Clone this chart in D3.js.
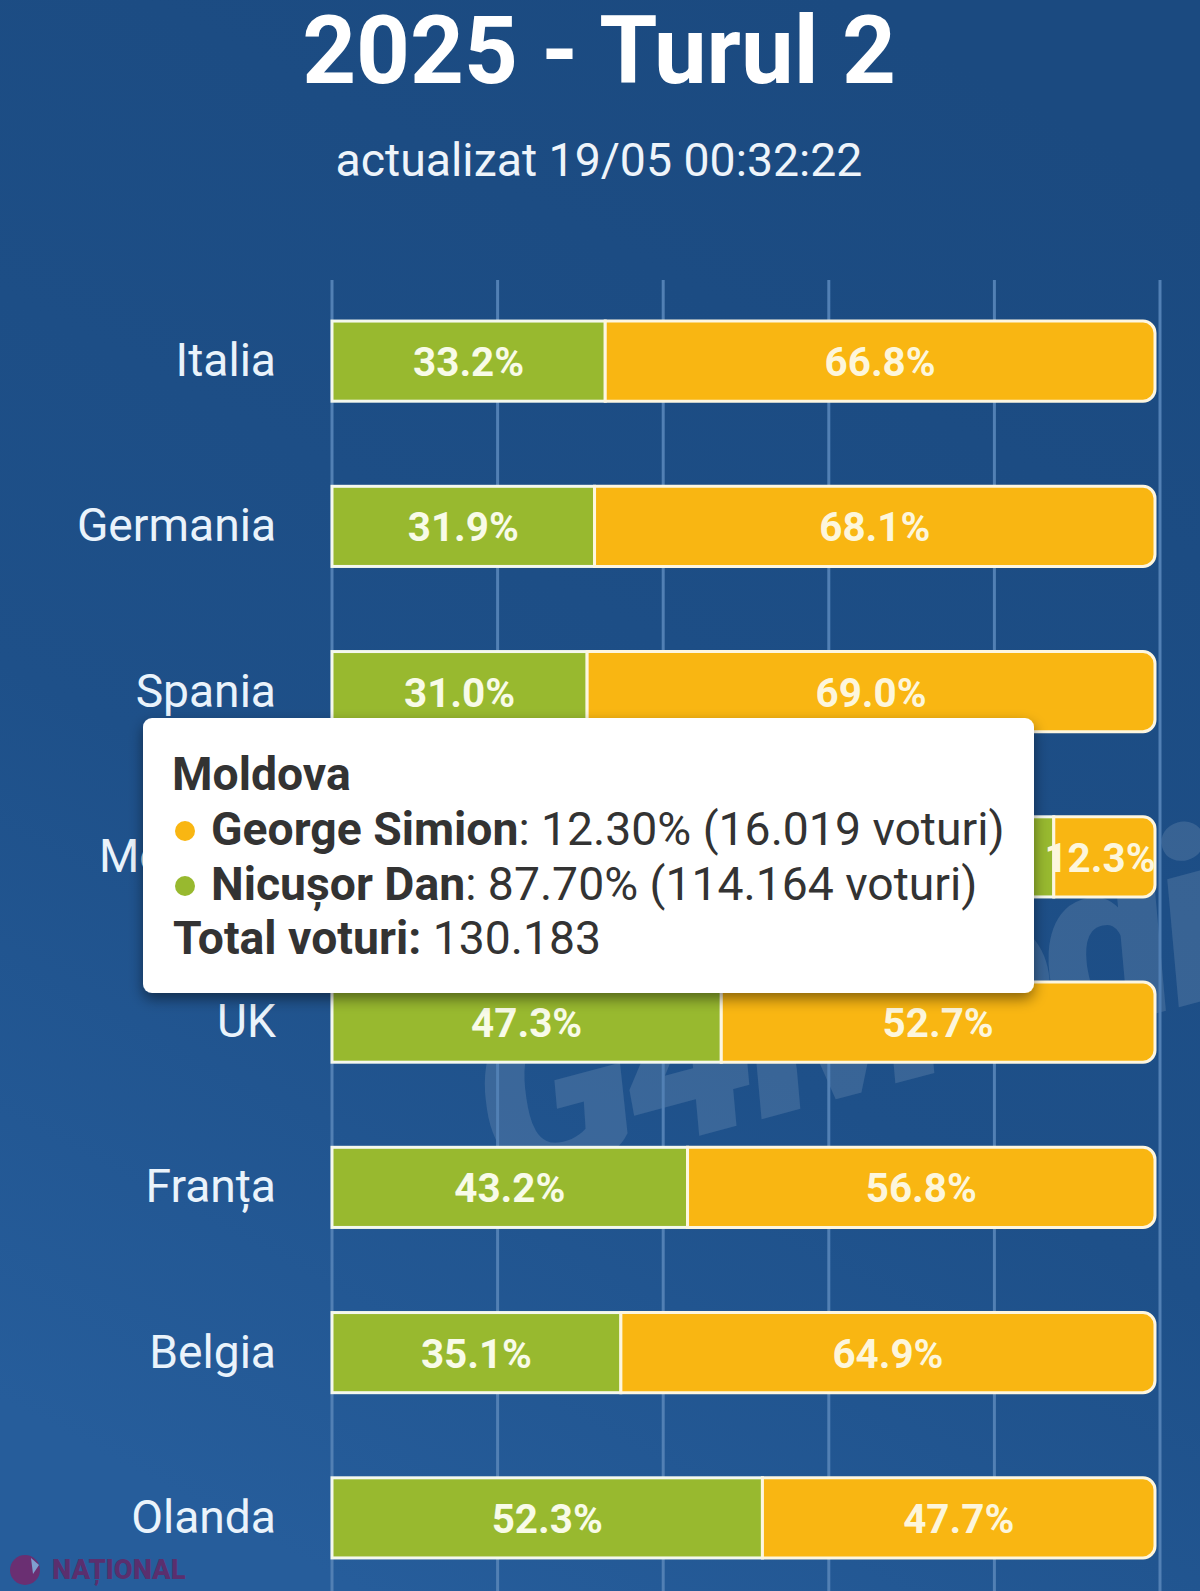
<!DOCTYPE html>
<html>
<head>
<meta charset="utf-8">
<script src="https://cdn.jsdelivr.net/npm/d3@7"></script>
<style>
    html, body { margin: 0; padding: 0; background: #1f5088; }
    text { font-family: Roboto, sans-serif; }
</style>
</head>
<body>
<svg id="chart"></svg>
<script>
// Data
var countries = ["Italia", "Germania", "Spania", "Moldova", "UK", "Franța", "Belgia", "Olanda"];
var danValues = [33.2, 31.9, 31.0, 87.7, 47.3, 43.2, 35.1, 52.3];
var simionValues = [66.8, 68.1, 69.0, 12.3, 52.7, 56.8, 64.9, 47.7];
var gridTicks = [0, 20, 40, 60, 80, 100];

var titleText = "2025 - Turul 2";
var subtitleText = "actualizat 19/05 00:32:22";

var tooltipTitle = "Moldova";
var tooltipNames = ["George Simion", "Nicușor Dan"];
var tooltipRest = [": 12.30% (16.019 voturi)", ": 87.70% (114.164 voturi)"];
var tooltipTotalLabel = "Total voturi:";
var tooltipTotalValue = " 130.183";

var green = "#98b92f";
var orange = "#f9b612";

var screen = {width: 1200, height: 1591};

var svg = d3.select("#chart")
    .attr("width", screen.width)
    .attr("height", screen.height)
    .style("display", "block");

var defs = svg.append("defs");

// Background is darkest top right, lighter towards the bottom left
var bg = defs.append("linearGradient")
    .attr("id", "bg")
    .attr("x1", 0.7).attr("y1", 0)
    .attr("x2", 0.3).attr("y2", 1);
bg.append("stop").attr("offset", "0%").attr("stop-color", "#1b4a80");
bg.append("stop").attr("offset", "60%").attr("stop-color", "#1e5089");
bg.append("stop").attr("offset", "100%").attr("stop-color", "#265d9b");

var shadow = defs.append("filter")
    .attr("id", "tipShadow")
    .attr("x", "-5%").attr("y", "-5%")
    .attr("width", "110%").attr("height", "120%");
shadow.append("feDropShadow")
    .attr("dx", 0).attr("dy", 6)
    .attr("stdDeviation", 7)
    .attr("flood-color", "#000")
    .attr("flood-opacity", 0.45);

svg.append("rect")
    .attr("width", screen.width)
    .attr("height", screen.height)
    .attr("fill", "url(#bg)");

// Scales
var xGrid = d3.scaleLinear().domain([0, 100]).range([332, 1160]);
var xBar = d3.scaleLinear().domain([0, 100]).range([332, 1155]);
var y = d3.scaleBand()
    .domain(countries)
    .range([278.5, 1600.5])
    .paddingInner(0.515)
    .paddingOuter(0.2575);

// Titles
svg.append("text")
    .text(titleText)
    .attr("x", 599)
    .attr("y", 83)
    .attr("text-anchor", "middle")
    .attr("font-size", 94)
    .attr("font-weight", 700)
    .attr("fill", "#fff");

svg.append("text")
    .text(subtitleText)
    .attr("x", 599)
    .attr("y", 176)
    .attr("text-anchor", "middle")
    .attr("font-size", 46.4)
    .attr("fill", "#eef4fa");

// Watermark
svg.append("text")
    .text("G4Media")
    .attr("transform", "translate(497,1190) rotate(-15)")
    .attr("font-size", 240)
    .attr("font-weight", 900)
    .attr("font-style", "italic")
    .attr("letter-spacing", -10)
    .attr("fill", "#fff")
    .attr("fill-opacity", 0.12);

// Gridlines
svg.append("g")
    .selectAll("line")
    .data(gridTicks)
    .enter()
    .append("line")
    .attr("x1", function(d) { return xGrid(d); })
    .attr("x2", function(d) { return xGrid(d); })
    .attr("y1", 280)
    .attr("y2", screen.height)
    .attr("stroke", "#5280b4")
    .attr("stroke-width", 3);

// Category labels
svg.append("g")
    .selectAll("text")
    .data(countries)
    .enter()
    .append("text")
    .text(function(d) { return d; })
    .attr("x", 276)
    .attr("y", function(d) { return y(d) + y.bandwidth() / 2 + 15; })
    .attr("text-anchor", "end")
    .attr("font-size", 46.2)
    .attr("fill", "#eaf3fb");

// Path for the orange segment, only its right side is rounded
var roundedRight = function(x0, x1, y0, y1, r) {
    var p = d3.path();
    p.moveTo(x0, y0);
    p.lineTo(x1 - r, y0);
    p.arcTo(x1, y0, x1, y0 + r, r);
    p.lineTo(x1, y1 - r);
    p.arcTo(x1, y1, x1 - r, y1, r);
    p.lineTo(x0, y1);
    p.closePath();
    return p.toString();
}

// Stacked bars
var rows = svg.append("g")
    .selectAll("g")
    .data(countries)
    .enter()
    .append("g");

rows.append("rect")
    .attr("x", xBar(0))
    .attr("y", function(d) { return y(d); })
    .attr("width", function(d, i) { return xBar(danValues[i]) - xBar(0); })
    .attr("height", y.bandwidth())
    .attr("fill", green)
    .attr("stroke", "#f4f8ee")
    .attr("stroke-width", 3);

rows.append("path")
    .attr("d", function(d, i) {
        return roundedRight(xBar(danValues[i]), xBar(100), y(d), y(d) + y.bandwidth(), 12);
    })
    .attr("fill", orange)
    .attr("stroke", "#fdf6e0")
    .attr("stroke-width", 3);

rows.append("text")
    .text(function(d, i) { return danValues[i].toFixed(1) + "%"; })
    .attr("x", function(d, i) { return xBar(danValues[i] / 2); })
    .attr("y", function(d) { return y(d) + y.bandwidth() / 2 + 15; })
    .attr("text-anchor", "middle")
    .attr("font-size", 40.4)
    .attr("font-weight", 700)
    .attr("fill", "#f8fbe8");

// Keep the narrow segment's label from running past the end of the bar
rows.append("text")
    .text(function(d, i) { return simionValues[i].toFixed(1) + "%"; })
    .attr("x", function(d, i) {
        return Math.min(xBar(danValues[i] + simionValues[i] / 2), xBar(100) - 55);
    })
    .attr("y", function(d) { return y(d) + y.bandwidth() / 2 + 15; })
    .attr("text-anchor", "middle")
    .attr("font-size", 40.4)
    .attr("font-weight", 700)
    .attr("fill", "#fdf6dc");

// Tooltip over Moldova
var tip = svg.append("g");

tip.append("rect")
    .attr("x", 143)
    .attr("y", 718)
    .attr("width", 891)
    .attr("height", 275)
    .attr("rx", 9)
    .attr("fill", "#fff")
    .attr("filter", "url(#tipShadow)");

tip.append("text")
    .text(tooltipTitle)
    .attr("x", 172)
    .attr("y", 790)
    .attr("font-size", 46.3)
    .attr("font-weight", 700)
    .attr("fill", "#333");

var tipColors = [orange, green];
var tipLines = tip.selectAll(".tipLine")
    .data(tooltipNames)
    .enter()
    .append("g")
    .classed("tipLine", true);

tipLines.append("circle")
    .attr("cx", 185)
    .attr("cy", function(d, i) { return 831 + i * 55; })
    .attr("r", 10)
    .attr("fill", function(d, i) { return tipColors[i]; });

var tipText = tipLines.append("text")
    .attr("x", 211)
    .attr("y", function(d, i) { return 845 + i * 54.5; })
    .attr("font-size", 46.3)
    .attr("fill", "#333");
tipText.append("tspan")
    .attr("font-weight", 700)
    .text(function(d) { return d; });
tipText.append("tspan")
    .text(function(d, i) { return tooltipRest[i]; });

var totalText = tip.append("text")
    .attr("x", 173)
    .attr("y", 954)
    .attr("font-size", 46.3)
    .attr("fill", "#333");
totalText.append("tspan")
    .attr("font-weight", 700)
    .text(tooltipTotalLabel);
totalText.append("tspan")
    .text(tooltipTotalValue);

// Publisher mark, bottom left
var logo = svg.append("g");
logo.append("circle")
    .attr("cx", 25)
    .attr("cy", 1570)
    .attr("r", 15)
    .attr("fill", "#6a2f72");
logo.append("path")
    .attr("d", "M31,1558 L39,1565 L33,1574 Z")
    .attr("fill", "#7f9fd0");
logo.append("text")
    .text("NAȚIONAL")
    .attr("x", 52)
    .attr("y", 1579)
    .attr("font-size", 27.3)
    .attr("font-weight", 900)
    .attr("fill", "#5a2f6e");
</script>
</body>
</html>
